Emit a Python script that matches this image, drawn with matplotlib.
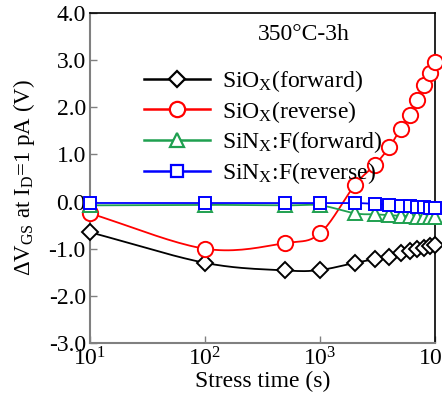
import numpy as np
import matplotlib
matplotlib.use("Agg")
import matplotlib.pyplot as plt

plt.rcParams['font.family'] = ['Liberation Serif', 'DejaVu Serif']
plt.rcParams['mathtext.fontset'] = 'custom'
plt.rcParams['mathtext.rm'] = 'Liberation Serif'
plt.rcParams['mathtext.it'] = 'Liberation Serif:italic'

time_s = [10, 100, 500, 1000, 2000, 3000, 4000, 5000, 6000, 7000, 8000, 9000, 10000]
sio_fwd = [-0.65, -1.30, -1.46, -1.45, -1.30, -1.22, -1.17, -1.10, -1.05, -1.01, -0.98, -0.95, -0.93]
sio_rev = [-0.25, -1.00, -0.88, -0.67, 0.35, 0.78, 1.16, 1.54, 1.84, 2.15, 2.47, 2.73, 2.96]
sin_fwd = [-0.08, -0.07, -0.08, -0.08, -0.25, -0.27, -0.29, -0.30, -0.31, -0.32, -0.32, -0.33, -0.33]
sin_rev = [-0.03, -0.03, -0.03, -0.03, -0.03, -0.05, -0.07, -0.09, -0.10, -0.11, -0.12, -0.13, -0.14]

labels = [r'SiO$_\mathrm{X}$(forward)', r'SiO$_\mathrm{X}$(reverse)',
          r'SiN$_\mathrm{X}$:F(forward)', r'SiN$_\mathrm{X}$:F(reverse)']
colors = ['black', 'red', '#1fa050', 'blue']
markers = ['D', 'o', '^', 's']
msizes = [8, 11, 10, 9]
FS = 17


def smooth(x, y, n=20):
    lx = np.log10(np.asarray(x, float))
    y = np.asarray(y, float)
    px = np.concatenate([[2 * lx[0] - lx[1]], lx, [2 * lx[-1] - lx[-2]]])
    py = np.concatenate([[2 * y[0] - y[1]], y, [2 * y[-1] - y[-2]]])
    ox, oy = [], []
    for i in range(1, len(px) - 2):
        t = np.linspace(0, 1, n, endpoint=False)
        for arr, out in ((px, ox), (py, oy)):
            p0, p1, p2, p3 = arr[i - 1], arr[i], arr[i + 1], arr[i + 2]
            out.extend(0.5 * ((2 * p1) + (-p0 + p2) * t + (2 * p0 - 5 * p1 + 4 * p2 - p3) * t ** 2
                              + (-p0 + 3 * p1 - 3 * p2 + p3) * t ** 3))
    ox.append(px[-2]); oy.append(py[-2])
    return 10 ** np.array(ox), np.array(oy)


fig = plt.figure(figsize=(4.42, 4.05), dpi=100)
ax = fig.add_axes([0.2036, 0.153, 0.781, 0.815])

series = [sio_fwd, sio_rev, sin_fwd, sin_rev]
handles = []
for ys, c, m, ms, lab in zip(series, colors, markers, msizes, labels):
    sx, sy = smooth(time_s, ys)
    ax.plot(sx, sy, color=c, lw=1.3, zorder=2)
    ax.plot(time_s, ys, linestyle='none', marker=m, ms=ms, mfc='white', mec=c, mew=1.4,
            zorder=3, clip_on=False)
    h, = ax.plot([], [], color=c, lw=1.8, marker=m, ms=ms, mfc='white', mec=c, mew=1.6)
    handles.append(h)

ax.set_xscale('log')
ax.set_xlim(10, 10000)
ax.set_ylim(-3.0, 4.0)
ax.set_yticks(np.arange(-3, 4.01, 1.0))
ax.set_yticklabels([f'{v:.1f}' for v in np.arange(-3, 4.01, 1.0)])
ax.set_xticks([10, 100, 1000, 10000])
ax.set_xticklabels([r'$10^1$', r'$10^2$', r'$10^3$', r'$10^4$'])
ax.xaxis.set_minor_locator(matplotlib.ticker.NullLocator())
ax.tick_params(axis='both', direction='in', length=5, width=1, color='gray', labelsize=FS)
ax.tick_params(axis='x', pad=3)
ax.tick_params(axis='y', pad=3)
ax.tick_params(top=False, right=False)
for s in ['left', 'bottom']:
    ax.spines[s].set_color('gray')
    ax.spines[s].set_linewidth(1.5)
for s in ['top', 'right']:
    ax.spines[s].set_color('black')
    ax.spines[s].set_linewidth(1.2)

ax.set_xlabel('Stress time (s)', fontsize=FS, labelpad=0)
ax.set_ylabel(r'$\Delta$V$_\mathrm{GS}$ at I$_\mathrm{D}$=1 pA (V)', fontsize=16.5, labelpad=8)

ax.text(0.62, 0.935, '350°C-3h', transform=ax.transAxes, fontsize=FS, ha='center', va='center')
leg = ax.legend(handles, labels, loc='upper left', bbox_to_anchor=(0.13, 0.862), frameon=False,
                fontsize=FS, handlelength=2.8, handletextpad=0.5, labelspacing=0.2, borderaxespad=0)

fig.savefig('out.png', dpi=100)
